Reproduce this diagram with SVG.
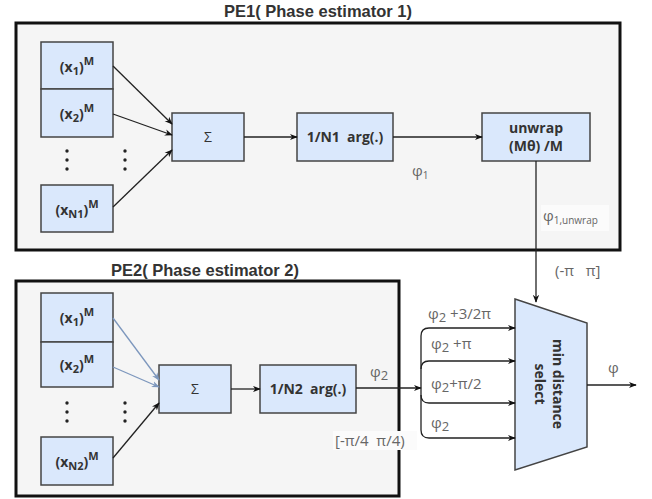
<svg xmlns="http://www.w3.org/2000/svg" width="652" height="499" viewBox="0 0 652 499">
<defs>
<marker id="ah" viewBox="0 0 10 10" refX="9" refY="5" markerWidth="8" markerHeight="8" orient="auto" markerUnits="userSpaceOnUse">
<path d="M0,1 L10,5 L0,9 L3,5 Z" fill="#111"/>
</marker>
<marker id="ahb" viewBox="0 0 10 10" refX="9" refY="5" markerWidth="8" markerHeight="8" orient="auto" markerUnits="userSpaceOnUse">
<path d="M0,1 L10,5 L0,9 L3,5 Z" fill="#7d97bd"/>
</marker>
<style>
.frame{fill:#f5f5f5;stroke:#111;stroke-width:3}
.box{fill:#dae8fc;stroke:#444;stroke-width:1.5}
.bt{font-family:"Open Sans","Liberation Sans",sans-serif;font-weight:bold;font-size:14px;fill:#333;text-anchor:middle;white-space:pre}
.title{font-family:"Liberation Sans",Arial,sans-serif;font-weight:bold;font-size:16.5px;fill:#333;text-anchor:middle}
.gl{font-family:"Open Sans","Liberation Sans",sans-serif;font-size:15px;fill:#666;white-space:pre}
.ln{fill:none;stroke:#222;stroke-width:1.3}
.lb{fill:none;stroke:#7d97bd;stroke-width:1.3}
.dot{fill:#222}
</style>
</defs>

<g id="PE1">
<text class="title" x="318" y="17">PE1( Phase estimator 1)</text>
<rect class="frame" x="16" y="23" width="604" height="227"/>
</g>
<g id="PE2">
<text class="title" x="205" y="276">PE2( Phase estimator 2)</text>
<rect class="frame" x="16" y="281" width="383" height="215"/>
</g>

<g id="pe1_x1"><rect class="box" x="41" y="42" width="72" height="47"/><text class="bt" x="77" y="72">(x<tspan font-size="11" dy="3">1</tspan><tspan dy="-3">)</tspan><tspan font-size="11" dy="-7">M</tspan></text></g>
<g id="pe1_x2"><rect class="box" x="41" y="89" width="72" height="48"/><text class="bt" x="77" y="119">(x<tspan font-size="11" dy="3">2</tspan><tspan dy="-3">)</tspan><tspan font-size="11" dy="-7">M</tspan></text></g>
<g id="pe1_xN"><rect class="box" x="41" y="185" width="72" height="47"/><text class="bt" x="77" y="215">(x<tspan font-size="11" dy="3">N1</tspan><tspan dy="-3">)</tspan><tspan font-size="11" dy="-7">M</tspan></text></g>
<g id="pe1_dots">
<circle class="dot" cx="67" cy="151" r="1.7"/><circle class="dot" cx="67" cy="160" r="1.7"/><circle class="dot" cx="67" cy="169" r="1.7"/>
<circle class="dot" cx="125" cy="151" r="1.7"/><circle class="dot" cx="125" cy="160" r="1.7"/><circle class="dot" cx="125" cy="169" r="1.7"/>
</g>
<g id="pe1_sum"><rect class="box" x="172" y="113" width="72" height="48"/><text class="bt" x="208" y="142" style="font-weight:normal">Σ</text></g>
<g id="pe1_arg"><rect class="box" x="297" y="113" width="96" height="48"/><text class="bt" x="345" y="142">1/N1  arg(.)</text></g>
<g id="pe1_unwrap"><rect class="box" x="482" y="113" width="108" height="48"/><text class="bt" x="536" y="133">unwrap</text><text class="bt" x="536" y="151">(Mθ) /M</text></g>

<g id="pe2_x1"><rect class="box" x="41" y="293" width="72" height="49"/><text class="bt" x="77" y="323">(x<tspan font-size="11" dy="3">1</tspan><tspan dy="-3">)</tspan><tspan font-size="11" dy="-7">M</tspan></text></g>
<g id="pe2_x2"><rect class="box" x="41" y="342" width="72" height="45"/><text class="bt" x="77" y="370">(x<tspan font-size="11" dy="3">2</tspan><tspan dy="-3">)</tspan><tspan font-size="11" dy="-7">M</tspan></text></g>
<g id="pe2_xN"><rect class="box" x="41" y="437" width="72" height="48"/><text class="bt" x="77" y="467">(x<tspan font-size="11" dy="3">N2</tspan><tspan dy="-3">)</tspan><tspan font-size="11" dy="-7">M</tspan></text></g>
<g id="pe2_dots">
<circle class="dot" cx="67" cy="403" r="1.7"/><circle class="dot" cx="67" cy="412" r="1.7"/><circle class="dot" cx="67" cy="421" r="1.7"/>
<circle class="dot" cx="125" cy="403" r="1.7"/><circle class="dot" cx="125" cy="412" r="1.7"/><circle class="dot" cx="125" cy="421" r="1.7"/>
</g>
<g id="pe2_sum"><rect class="box" x="159" y="365" width="72" height="48"/><text class="bt" x="195" y="394" style="font-weight:normal">Σ</text></g>
<g id="pe2_arg"><rect class="box" x="260" y="365" width="96" height="48"/><text class="bt" x="308" y="394">1/N2  arg(.)</text></g>

<g id="select">
<path d="M515,299 L587,323 L587,447 L515,470 Z" fill="#dae8fc" stroke="#444" stroke-width="1.5"/>
<text class="bt" transform="translate(553,384) rotate(90)" x="0" y="0">min distance</text>
<text class="bt" transform="translate(535,384) rotate(90)" x="0" y="0">select</text>
</g>

<g id="connectors">
<line class="ln" x1="113" y1="66" x2="172" y2="124" marker-end="url(#ah)"/>
<line class="ln" x1="113" y1="114" x2="172" y2="135" marker-end="url(#ah)"/>
<line class="ln" x1="113" y1="207" x2="172" y2="150" marker-end="url(#ah)"/>
<line class="ln" x1="244" y1="137" x2="297" y2="137" marker-end="url(#ah)"/>
<line class="ln" x1="393" y1="137" x2="482" y2="137" marker-end="url(#ah)"/>
<line class="ln" x1="536" y1="161" x2="536" y2="302" marker-end="url(#ah)"/>

<line class="lb" x1="113" y1="318" x2="159" y2="380" marker-end="url(#ahb)"/>
<line class="lb" x1="113" y1="367" x2="159" y2="387" marker-end="url(#ahb)"/>
<line class="ln" x1="113" y1="458" x2="159" y2="403" marker-end="url(#ah)"/>
<line class="ln" x1="231" y1="389" x2="260" y2="389" marker-end="url(#ah)"/>
<line class="ln" x1="356" y1="388" x2="421" y2="388" marker-end="url(#ah)"/>

<path class="ln" d="M421,388 L421,336 Q421,328 429,328 L515,328" marker-end="url(#ah)"/>
<path class="ln" d="M421,369 Q421,361 429,361 L515,361" marker-end="url(#ah)"/>
<path class="ln" d="M421,388 L421,395 Q421,403 429,403 L515,403" marker-end="url(#ah)"/>
<path class="ln" d="M421,395 L421,430 Q421,438 429,438 L515,438" marker-end="url(#ah)"/>
<line class="ln" x1="587" y1="385" x2="636" y2="385" marker-end="url(#ah)"/>
</g>

<g id="labels">
<text class="gl" x="412" y="176">φ<tspan font-size="10" dy="3">1</tspan></text>
<rect x="541" y="205" width="68" height="26" fill="#fbfbfb"/>
<text class="gl" x="543" y="221">φ<tspan font-size="10" dy="3">1,unwrap</tspan></text>
<text class="gl" x="555" y="276">(-π   π]</text>
<text class="gl" x="608" y="373">φ</text>
<text class="gl" x="370" y="377">φ<tspan font-size="13" dy="3">2</tspan></text>
<rect x="333" y="431" width="84" height="19" fill="#fbfbfb"/>
<text class="gl" x="335" y="446">[-π/4  π/4)</text>
<text class="gl" x="428" y="319">φ<tspan font-size="13" dy="3">2</tspan><tspan dy="-3"> +3/2π</tspan></text>
<text class="gl" x="431" y="349">φ<tspan font-size="13" dy="3">2</tspan><tspan dy="-3"> +π</tspan></text>
<text class="gl" x="431" y="389">φ<tspan font-size="13" dy="3">2</tspan><tspan dy="-3">+π/2</tspan></text>
<text class="gl" x="431" y="428">φ<tspan font-size="13" dy="3">2</tspan></text>
</g>
</svg>
